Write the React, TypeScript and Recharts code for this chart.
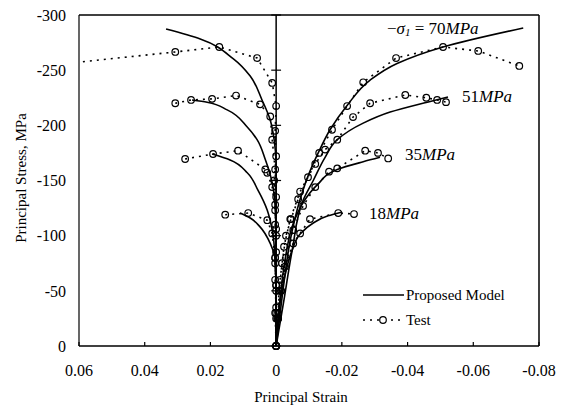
import React from 'react';
import { ComposedChart, Line, XAxis, YAxis, ReferenceLine, Legend } from 'recharts';

const xTicks = [0.06, 0.04, 0.02, 0, -0.02, -0.04, -0.06, -0.08];
const yTicks = [-300, -250, -200, -150, -100, -50, 0];

type P = [number, number];

// Proposed model, lateral branch (positive strain), listed from end to origin
const model70Lateral: P[] = [
  [0.0335, -287.3], [0.0231, -278.3], [0.0131, -260.5], [0.0079, -244.7], [0.0043, -223],
  [0.0018, -204.8], [0.0006, -186.7], [0.0, -164], [0.0, -100], [0.0, 0],
];
const model70Axial: P[] = [
  [-0.0752, -288.2], [-0.0508, -271], [-0.0368, -256], [-0.0286, -241], [-0.0216, -218],
  [-0.0164, -196], [-0.0128, -175], [-0.0097, -154], [-0.0073, -133], [-0.0043, -96],
  [-0.0021, -50.8], [-0.0006, -14.5], [0.0, 0],
];
const model51Lateral: P[] = [
  [0.0256, -223], [0.021, -221], [0.0149, -214], [0.0088, -198.5], [0.0058, -187],
  [0.0033, -169], [0.0012, -148], [0.0003, -126], [0.0, -96], [0.0, -50], [0.0, 0],
];
const model51Axial: P[] = [
  [-0.0523, -225.7], [-0.046, -221], [-0.0347, -212], [-0.0265, -202], [-0.0186, -187],
  [-0.0149, -171], [-0.0113, -150], [-0.0082, -132], [-0.0049, -87], [-0.0024, -42], [0.0, 0],
];
const model35Lateral: P[] = [
  [0.0195, -174], [0.014, -168.6], [0.0088, -157], [0.0055, -141], [0.0027, -123],
  [0.0012, -105], [0.0003, -78], [0.0, -40], [0.0, 0],
];
const model35Axial: P[] = [
  [-0.0316, -171], [-0.0265, -167], [-0.0186, -160], [-0.0125, -146], [-0.0082, -130],
  [-0.0052, -111], [-0.0027, -78], [-0.0009, -33], [0.0, 0],
];
const model18Lateral: P[] = [
  [0.011, -120.5], [0.0079, -116], [0.0049, -108], [0.0018, -93], [0.0003, -78],
  [0.0, -51], [0.0, -25], [0.0, 0],
];
const model18Axial: P[] = [
  [-0.0201, -121.5], [-0.0158, -118], [-0.0113, -111.5], [-0.0073, -101.5], [-0.0049, -87],
  [-0.0027, -64], [-0.0009, -33], [0.0, 0],
];

// Test data: lateral end -> origin -> axial end
const test70: P[] = [
  [0.08, -251], [0.0307, -266.5], [0.0173, -271], [0.0058, -261], [0.0012, -238.4],
  [0.0, -217.5], [0.0003, -195], [0.0, -172], [0.0006, -150], [0.0003, -128], [0.0, -106],
  [0.0003, -80], [0.0, -55], [0.0003, -30], [0.0, 0],
  [-0.0003, -25], [-0.0009, -50], [-0.0018, -75], [-0.003, -100], [-0.0045, -115],
  [-0.0067, -133], [-0.0097, -153], [-0.0131, -175], [-0.017, -196], [-0.0216, -217.5],
  [-0.0265, -239], [-0.0365, -261], [-0.0508, -271], [-0.0615, -267.4], [-0.074, -253.8],
];
const test51: P[] = [
  [0.0307, -220], [0.0259, -223], [0.0195, -224], [0.0122, -227], [0.0049, -219],
  [0.0018, -208], [0.0012, -187], [0.0003, -160], [0.0, -135], [0.0003, -110], [0.0, -85],
  [0.0003, -60], [0.0, -35], [0.0, 0],
  [-0.0006, -30], [-0.0012, -60], [-0.0024, -90], [-0.0043, -115], [-0.0073, -140],
  [-0.0119, -165], [-0.0149, -178], [-0.0186, -187], [-0.0234, -207.5], [-0.0286, -220],
  [-0.0393, -227.5], [-0.0457, -225], [-0.049, -223], [-0.0517, -221],
];
const test35: P[] = [
  [0.0277, -169.5], [0.0192, -174], [0.0116, -177], [0.0033, -160], [0.0027, -157],
  [0.0012, -144], [0.0003, -123], [0.0, -100], [0.0003, -75], [0.0, -50], [0.0, -25], [0.0, 0],
  [-0.0006, -25], [-0.0015, -50], [-0.003, -80], [-0.0052, -105], [-0.0082, -127],
  [-0.0119, -144], [-0.0161, -158], [-0.0186, -161], [-0.0271, -177], [-0.031, -175],
  [-0.0341, -170],
];
const test18: P[] = [
  [0.0155, -119], [0.0085, -120.5], [0.0027, -114], [0.0012, -102], [0.0003, -80],
  [0.0, -55], [0.0, -30], [0.0, 0],
  [-0.0006, -25], [-0.0015, -50], [-0.0027, -72], [-0.0052, -93], [-0.0073, -102],
  [-0.0103, -115], [-0.0189, -120.5], [-0.0237, -119.6],
];

const modelSeries = [model70Lateral, model70Axial, model51Lateral, model51Axial, model35Lateral, model35Axial, model18Lateral, model18Axial];
const testSeries = [test70, test51, test35, test18];

const toPts = (a: P[]) => a.map(([x, y]) => ({ x, y }));

const FONT = "'Liberation Serif', 'DejaVu Serif', serif";

const LegendBox = () => (
  <svg width={160} height={50} style={{ display: 'block', fontFamily: FONT }}>
    <line x1={3} y1={10} x2={44} y2={10} stroke="#000" strokeWidth={1.6} />
    <text x={46} y={10} style={{ fontFamily: FONT }} fontSize={15} dominantBaseline="central" fill="#000">Proposed Model</text>
    <line x1={3} y1={35} x2={44} y2={35} stroke="#000" strokeWidth={1.6} strokeDasharray="2 5" />
    <circle cx={23} cy={35} r={3.3} fill="#fff" stroke="#000" strokeWidth={1.2} />
    <text x={46} y={35} style={{ fontFamily: FONT }} fontSize={15} dominantBaseline="central" fill="#000">Test</text>
  </svg>
);

const tickStyle = { fontSize: 16, fill: '#000', fontFamily: FONT, style: { fontFamily: FONT } };

export default function App() {
  return (
    <div style={{ position: 'absolute', left: 0, top: 0, width: 565, height: 409, background: '#fff', fontFamily: FONT }}>
      <ComposedChart width={565} height={409} margin={{ top: 15, right: 26, bottom: 0, left: 0 }} style={{ fontFamily: FONT }}>
        <XAxis
          type="number"
          dataKey="x"
          domain={[-0.08, 0.06]}
          ticks={xTicks}
          reversed
          allowDataOverflow
          interval={0}
          height={63}
          tickSize={-4}
          tickMargin={23}
          axisLine={{ stroke: '#000', strokeWidth: 1.5 }}
          tickLine={{ stroke: '#000', strokeWidth: 1.2 }}
          tick={tickStyle}
        />
        <YAxis
          type="number"
          domain={[-300, 0]}
          ticks={yTicks}
          reversed
          interval={0}
          width={79}
          tickSize={0}
          tickMargin={13}
          axisLine={{ stroke: '#000', strokeWidth: 1.2 }}
          tickLine={false}
          tick={tickStyle}
        />
        <ReferenceLine y={-300} stroke="#000" strokeWidth={1.5} />
        <ReferenceLine x={-0.08} stroke="#000" strokeWidth={1.5} />
        <ReferenceLine x={0} stroke="#000" strokeWidth={1.5} />
        {yTicks.map((t) => (
          <ReferenceLine key={'t' + t} segment={[{ x: 0.0015, y: t }, { x: -0.0015, y: t }]} stroke="#000" strokeWidth={1.2} />
        ))}
        {modelSeries.map((s, i) => (
          <Line
            key={'m' + i}
            data={toPts(s)}
            dataKey="y"
            type="monotoneY"
            stroke="#000"
            strokeWidth={1.6}
            dot={false}
            activeDot={false}
            legendType="none"
            isAnimationActive={false}
          />
        ))}
        {testSeries.map((s, i) => (
          <Line
            key={'t' + i}
            data={toPts(s)}
            dataKey="y"
            type="linear"
            stroke="#000"
            strokeWidth={1.6}
            strokeDasharray="2 5"
            dot={{ r: 3.3, fill: 'none', stroke: '#000', strokeWidth: 1.2, strokeDasharray: 'none' }}
            activeDot={false}
            legendType="none"
            isAnimationActive={false}
          />
        ))}
        <Legend
          layout="horizontal"
          verticalAlign="middle"
          align="center"
          content={() => <LegendBox />}
          wrapperStyle={{ position: 'absolute', left: 360, top: 285, width: 160, height: 50 }}
        />
      </ComposedChart>
      <svg width={565} height={409} style={{ position: 'absolute', left: 0, top: 0, pointerEvents: 'none', fontFamily: FONT }}>
        <text x={21} y={178} style={{ fontFamily: FONT }} fontSize={15} fill="#000" textAnchor="middle" dominantBaseline="central" transform="rotate(-90 21 178)">
          Principal Stress, MPa
        </text>
        <text x={301} y={397} style={{ fontFamily: FONT }} fontSize={15} fill="#000" textAnchor="middle" dominantBaseline="central">
          Principal Strain
        </text>
        <text x={387} y={28} style={{ fontFamily: FONT }} fontSize={17} fill="#000" dominantBaseline="central">
          −<tspan fontStyle="italic">σ</tspan>
          <tspan fontStyle="italic" fontSize={11} dy={4}>1</tspan>
          <tspan dy={-4}> = 70</tspan>
          <tspan fontStyle="italic">MPa</tspan>
        </text>
        <text x={462} y={96} style={{ fontFamily: FONT }} fontSize={17} fill="#000" dominantBaseline="central">
          51<tspan fontStyle="italic">MPa</tspan>
        </text>
        <text x={405} y={154} style={{ fontFamily: FONT }} fontSize={17} fill="#000" dominantBaseline="central">
          35<tspan fontStyle="italic">MPa</tspan>
        </text>
        <text x={369} y={213} style={{ fontFamily: FONT }} fontSize={17} fill="#000" dominantBaseline="central">
          18<tspan fontStyle="italic">MPa</tspan>
        </text>
      </svg>
    </div>
  );
}
